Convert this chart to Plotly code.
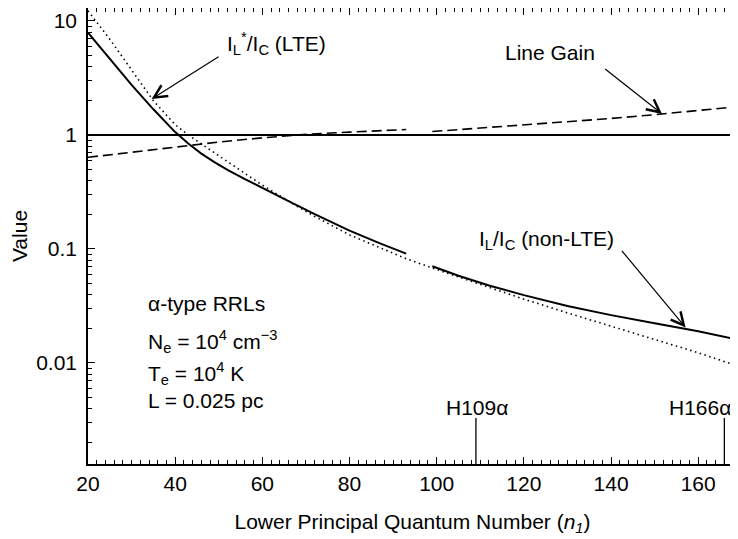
import plotly.graph_objects as go
import numpy as np

# ---------------- data ----------------
# I_L/I_C (non-LTE), solid, with a gap between n=93 and n=99
n_nonlte = [20, 25, 30, 35, 40, 43, 46, 49, 52, 56, 60, 66, 72, 80, 87, 93, None,
            99, 105, 112, 120, 130, 140, 150, 160, 168.9]
v_nonlte = [7.91, 4.62, 2.75, 1.68, 1.06, 0.841, 0.687, 0.578, 0.495, 0.410, 0.341, 0.263, 0.202,
            0.145, 0.112, 0.091, None,
            0.0705, 0.0582, 0.0479, 0.0394, 0.0316, 0.0263, 0.0223, 0.0190, 0.0161]

# I_L*/I_C (LTE), dotted
n_lte = [20, 25, 30, 35, 40, 43, 48, 54, 60, 66, 72, 80, 87, 93, 100,
         110, 120, 130, 140, 150, 160, 168.9]
v_lte = [12.3, 6.92, 3.72, 2.00, 1.23, 1.00, 0.741, 0.519, 0.363, 0.263, 0.193, 0.133, 0.102, 0.0822, 0.0661,
         0.0490, 0.0363, 0.0275, 0.0211, 0.0162, 0.0123, 0.00944]

# Line gain, dashed, with a gap between n=93 and n=99
n_gain = [20, 30, 40, 50, 60, 70, 80, 93, None, 99, 110, 120, 130, 140, 150, 160, 168.9]
v_gain = [0.637, 0.708, 0.785, 0.867, 0.944, 1.012, 1.059, 1.117, None,
          1.072, 1.148, 1.225, 1.303, 1.396, 1.507, 1.629, 1.770]

# unity reference line
n_unity = [20, 168.9]
v_unity = [1, 1]

# marked transitions
lines_n = [109, 166]
lines_label = ["H109α", "H166α"]
line_top = 0.0033

x_range = [20, 168.9]
y_range_vals = [0.0013, 13.0]
y_ticks = [0.01, 0.1, 1, 10]
y_ticktext = ["0.01", "0.1", "1", "10"]

# annotation anchors (data coordinates: n, value)
lte_head = (34.6, 2.07)
lte_tail = (50.3, 4.94)
gain_head = (151.7, 1.53)
gain_tail = (138.3, 3.88)
nonlte_head = (157.1, 0.0205)
nonlte_tail = (142.2, 0.0993)

FONT = "Liberation Sans, Arial, Helvetica, sans-serif"
FS = 21

fig = go.Figure()

fig.add_trace(go.Scatter(x=n_unity, y=v_unity, mode="lines",
                         line=dict(color="black", width=2), showlegend=False))
fig.add_trace(go.Scatter(x=n_lte, y=v_lte, mode="lines",
                         line=dict(color="black", width=1.6, dash="1.5px,3.5px"), showlegend=False))
fig.add_trace(go.Scatter(x=n_gain, y=v_gain, mode="lines", connectgaps=False,
                         line=dict(color="black", width=1.6, dash="10px,5px"), showlegend=False))
fig.add_trace(go.Scatter(x=n_nonlte, y=v_nonlte, mode="lines", connectgaps=False,
                         line=dict(color="black", width=2), showlegend=False))

for n in lines_n:
    fig.add_trace(go.Scatter(x=[n, n], y=[0.0005, line_top], mode="lines",
                             line=dict(color="black", width=1.3), showlegend=False))

lg = np.log10

def text_ann(x, y, text, xanchor="center"):
    fig.add_annotation(x=x, y=lg(y), xref="x", yref="y", text=text, showarrow=False,
                       xanchor=xanchor, yanchor="middle",
                       font=dict(family=FONT, size=FS, color="black"))

def arrow_ann(head, tail):
    fig.add_annotation(x=head[0], y=lg(head[1]), ax=tail[0], ay=lg(tail[1]),
                       xref="x", yref="y", axref="x", ayref="y", text="",
                       showarrow=True, arrowhead=5, arrowsize=2.1, arrowwidth=1.2,
                       arrowcolor="black", standoff=0, startstandoff=0)

# curve labels
text_ann(51.4, 6.3, "I<sub>L</sub><sup>*</sup>/I<sub>C</sub> (LTE)", xanchor="left")
arrow_ann(lte_head, lte_tail)
text_ann(126.1, 5.25, "Line Gain")
arrow_ann(gain_head, gain_tail)
text_ann(125.2, 0.119, "I<sub>L</sub>/I<sub>C</sub> (non-LTE)")
arrow_ann(nonlte_head, nonlte_tail)

# parameter block
text_ann(33.3, 0.0334, "α-type RRLs", xanchor="left")
text_ann(33.3, 0.0154, "N<sub>e</sub> = 10<sup>4</sup> cm<sup>−3</sup>", xanchor="left")
text_ann(33.3, 0.00815, "T<sub>e</sub> = 10<sup>4</sup> K", xanchor="left")
text_ann(33.3, 0.00473, "L = 0.025 pc", xanchor="left")

# transition labels
text_ann(109.2, 0.0041, lines_label[0])
text_ann(167.9, 0.0041, lines_label[1], xanchor="right")

minor_y = [d * 10.0 ** e for e in range(-3, 2) for d in range(2, 10)]

axis_common = dict(showline=True, linecolor="black", linewidth=1.5, mirror="allticks",
                   ticks="inside", tickcolor="black", tickwidth=1, ticklen=7,
                   showgrid=False, zeroline=False, automargin=False,
                   tickfont=dict(family=FONT, size=FS, color="black"))

# the page body adds an 8 px offset, so the figure is sized to fit inside the window
fig.update_layout(
    width=730, height=531,
    margin=dict(l=80, r=1, t=0, b=75),
    paper_bgcolor="white", plot_bgcolor="white",
    font=dict(family=FONT, size=FS, color="black"),
    showlegend=False,
    xaxis=dict(range=x_range, tick0=20, dtick=20,
               minor=dict(dtick=2, tick0=20, ticks="inside", ticklen=4, tickwidth=1,
                          tickcolor="black", showgrid=False),
               ticklabelstandoff=0,
               title=dict(text="Lower Principal Quantum Number (<i>n</i><sub><i>1</i></sub>)",
                          font=dict(family=FONT, size=FS), standoff=20),
               **axis_common),
    yaxis=dict(type="log", range=[lg(y_range_vals[0]), lg(y_range_vals[1])],
               tickmode="array", tickvals=y_ticks, ticktext=y_ticktext,
               minor=dict(tickmode="array", tickvals=minor_y, ticks="inside", ticklen=4,
                          tickwidth=1, tickcolor="black", showgrid=False),
               ticklabelstandoff=5,
               title=dict(text="Value", font=dict(family=FONT, size=FS), standoff=16),
               **axis_common),
)

fig.write_html("out.html")
